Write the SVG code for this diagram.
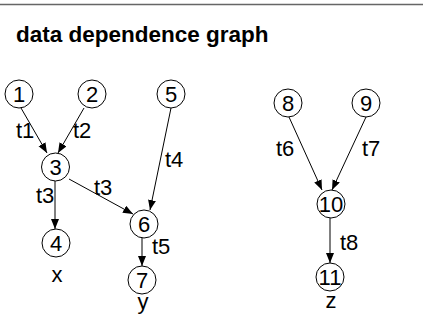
<svg xmlns="http://www.w3.org/2000/svg" width="423" height="323" viewBox="0 0 423 323">
<style>
text{font-family:"Liberation Sans",Arial,Helvetica,sans-serif;font-size:22px;fill:#000}
.title{font-weight:bold;font-size:22.5px}
.node circle{fill:#fff;stroke:#000;stroke-width:1}
.node text{text-anchor:middle}
.edge{stroke:#000;stroke-width:1;fill:none;marker-end:url(#arr)}
.var{text-anchor:middle}
</style>
<defs>
<marker id="arr" markerUnits="userSpaceOnUse" markerWidth="11" markerHeight="9" refX="10" refY="4" orient="auto">
<path d="M0,0 L10,4 L0,8 z" fill="#000"/>
</marker>
</defs>
<rect width="423" height="323" fill="#fff"/>
<line x1="0" y1="4.5" x2="423" y2="4.5" stroke="#666" stroke-width="1.5"/>
<text class="title" x="16" y="42">data dependence graph</text>
<g id="edges">
<line class="edge" x1="21" y1="108" x2="47" y2="153"/>
<line class="edge" x1="84" y1="108" x2="58" y2="153"/>
<line class="edge" x1="55" y1="181" x2="55" y2="229"/>
<line class="edge" x1="69" y1="179" x2="133" y2="214"/>
<line class="edge" x1="171" y1="108" x2="150" y2="210"/>
<line class="edge" x1="142" y1="238" x2="142" y2="266"/>
<line class="edge" x1="289" y1="117" x2="322" y2="190"/>
<line class="edge" x1="366" y1="117" x2="332" y2="190"/>
<line class="edge" x1="330" y1="218" x2="330" y2="263"/>
<text x="16" y="138">t1</text>
<text x="73" y="138">t2</text>
<text x="36" y="203">t3</text>
<text x="94" y="195">t3</text>
<text x="165" y="167">t4</text>
<text x="152" y="254">t5</text>
<text x="276" y="156">t6</text>
<text x="362" y="156">t7</text>
<text x="340" y="250">t8</text>
</g>
<g id="n1" class="node"><circle cx="19" cy="94" r="14"/><text x="19" y="102">1</text></g>
<g id="n2" class="node"><circle cx="92" cy="94" r="14"/><text x="92" y="102">2</text></g>
<g id="n5" class="node"><circle cx="171" cy="94" r="14"/><text x="171" y="102">5</text></g>
<g id="n3" class="node"><circle cx="55.5" cy="167" r="14"/><text x="55.5" y="175">3</text></g>
<g id="n4" class="node"><circle cx="56" cy="243" r="14"/><text x="56" y="251">4</text><text class="var" x="57" y="282">x</text></g>
<g id="n6" class="node"><circle cx="144" cy="224" r="14"/><text x="144" y="232">6</text></g>
<g id="n7" class="node"><circle cx="142" cy="280" r="14"/><text x="142" y="288">7</text><text class="var" x="143" y="309">y</text></g>
<g id="n8" class="node"><circle cx="288" cy="103" r="14"/><text x="288" y="111">8</text></g>
<g id="n9" class="node"><circle cx="366" cy="103" r="14"/><text x="366" y="111">9</text></g>
<g id="n10" class="node"><circle cx="331" cy="204" r="14"/><text x="331" y="212">10</text></g>
<g id="n11" class="node"><circle cx="330" cy="277" r="14"/><text x="330" y="285">11</text><text class="var" x="331" y="308">z</text></g>
</svg>
